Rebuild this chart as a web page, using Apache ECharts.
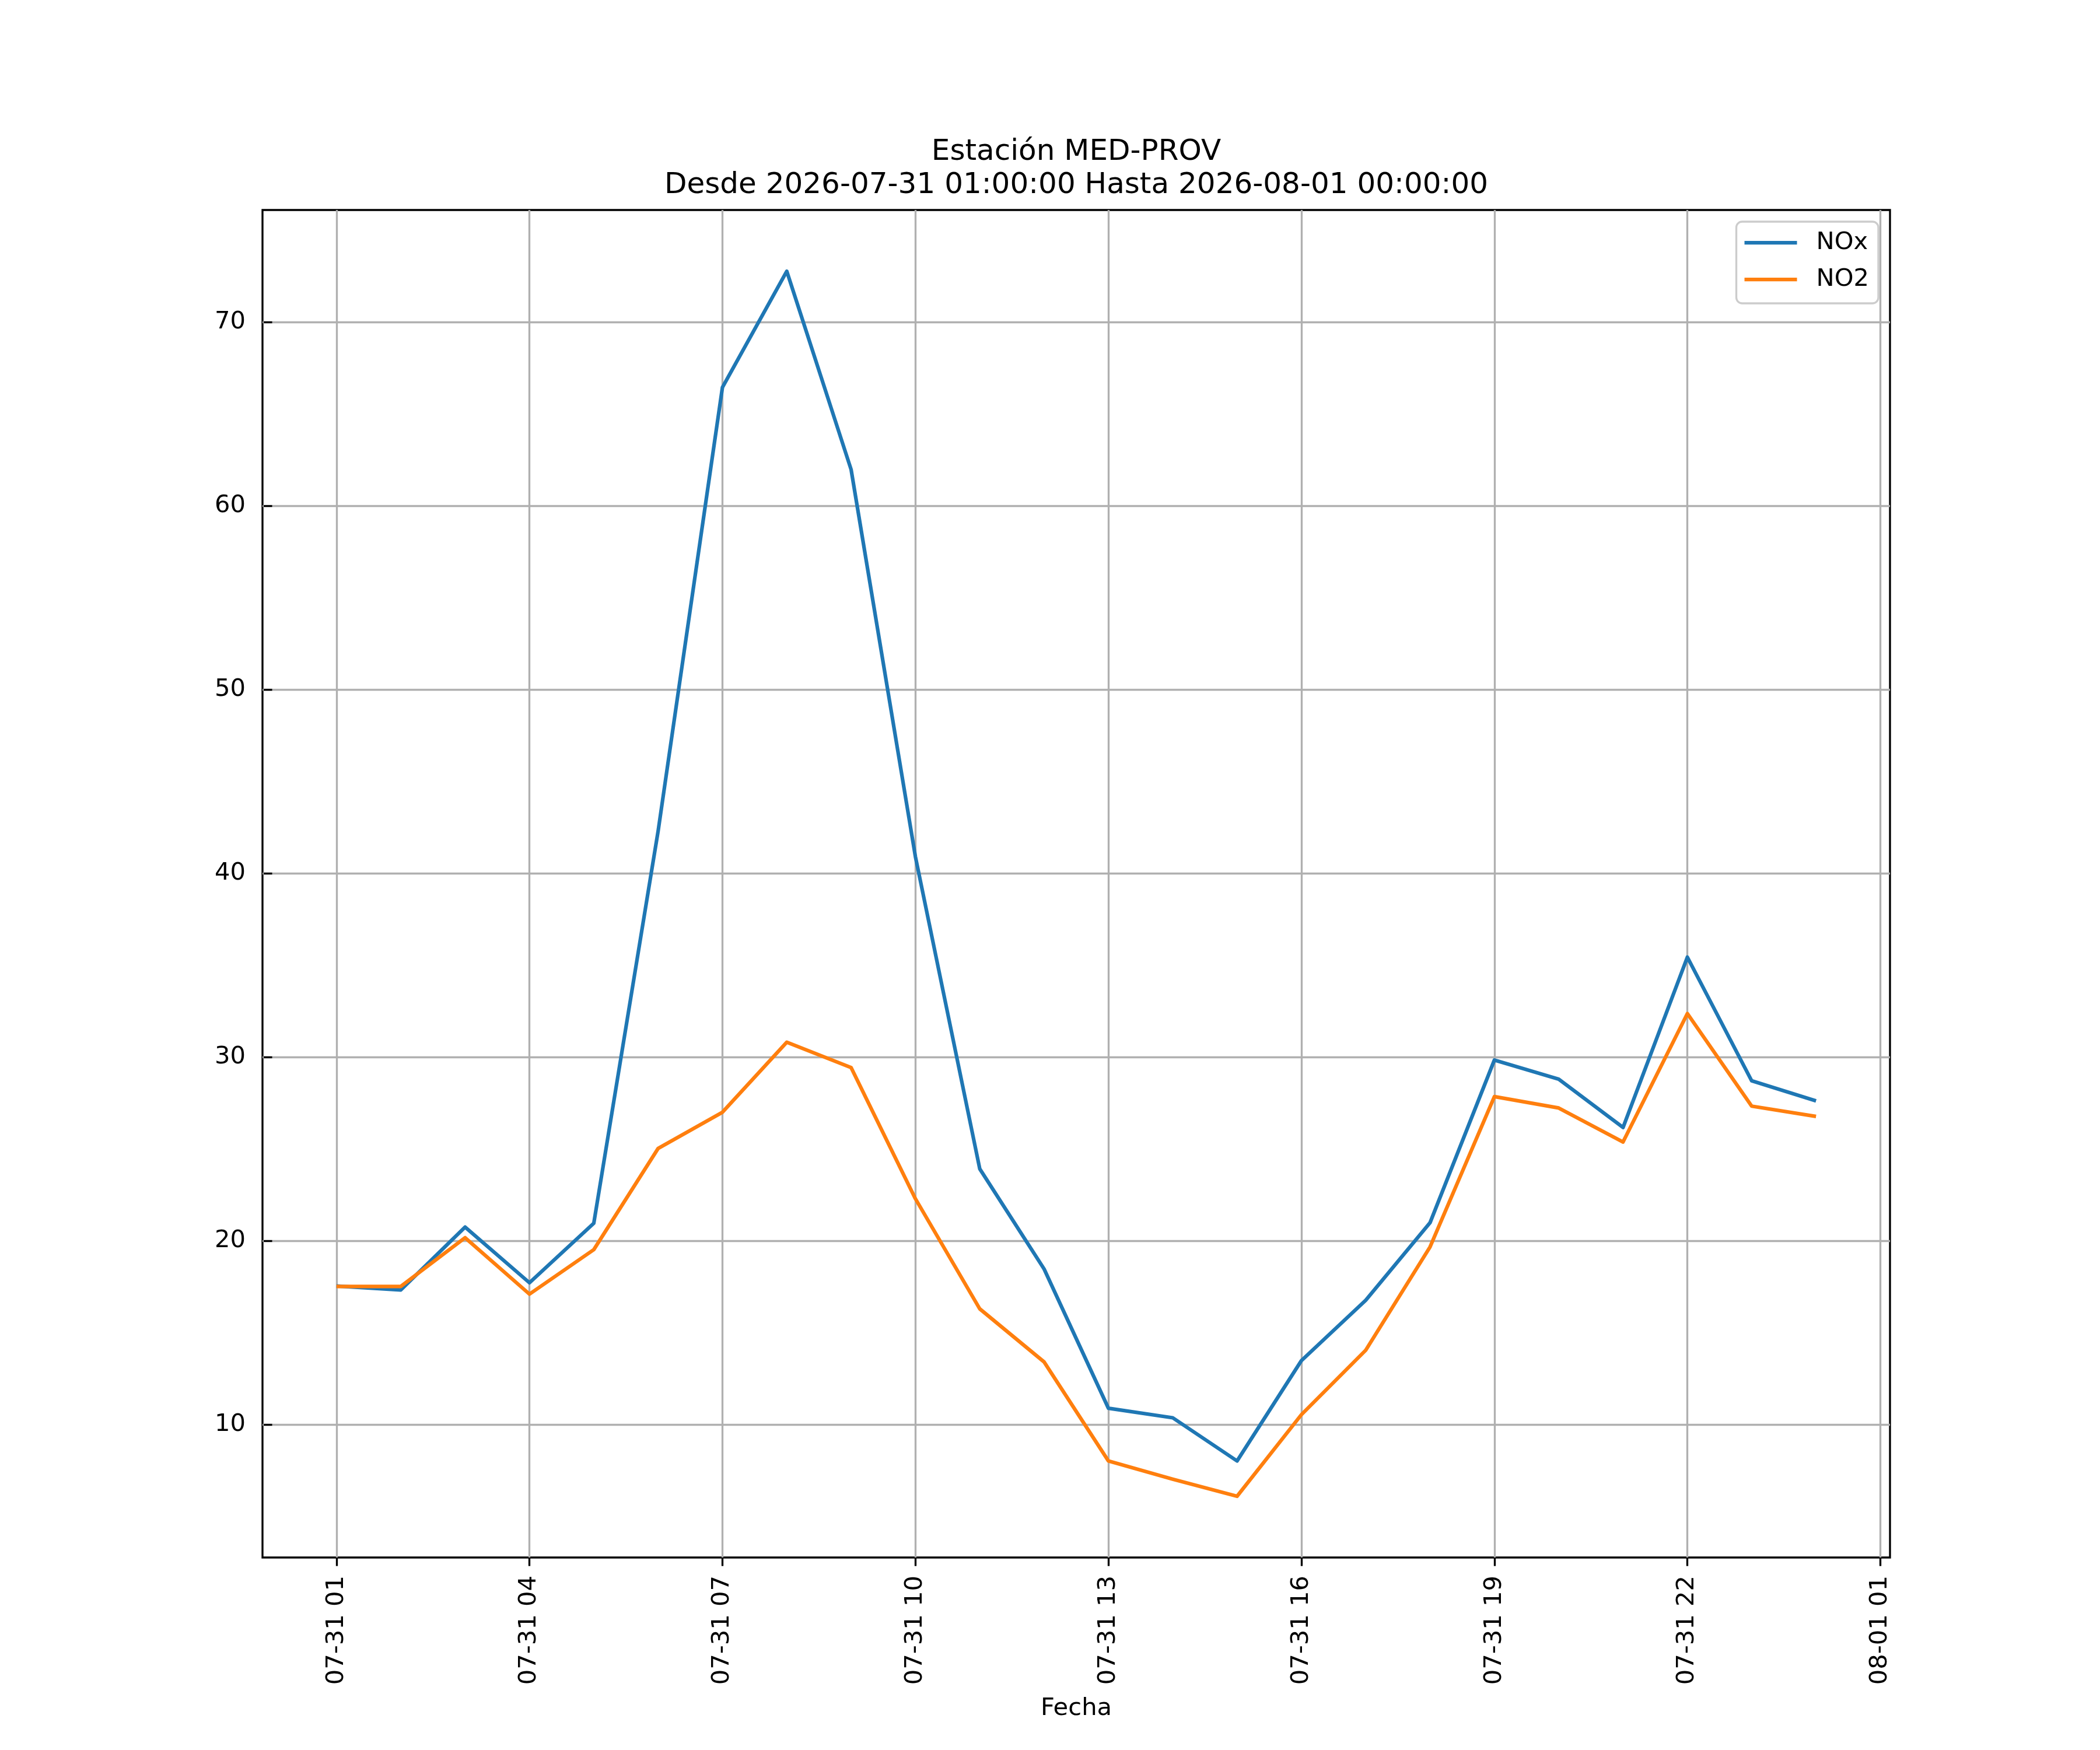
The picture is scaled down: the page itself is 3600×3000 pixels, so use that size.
<!DOCTYPE html>
<html>
<head>
<meta charset="utf-8">
<script src="https://cdn.jsdelivr.net/npm/echarts@6/dist/echarts.min.js"></script>
<style>html,body{margin:0;padding:0;background:#fff}#c{width:3600px;height:3000px}</style>
</head>
<body>
<div id="c"></div>
<script>
// ---- data ----
const times = [
  '2026-07-31 01:00','2026-07-31 02:00','2026-07-31 03:00','2026-07-31 04:00',
  '2026-07-31 05:00','2026-07-31 06:00','2026-07-31 07:00','2026-07-31 08:00',
  '2026-07-31 09:00','2026-07-31 10:00','2026-07-31 11:00','2026-07-31 12:00',
  '2026-07-31 13:00','2026-07-31 14:00','2026-07-31 15:00','2026-07-31 16:00',
  '2026-07-31 17:00','2026-07-31 18:00','2026-07-31 19:00','2026-07-31 20:00',
  '2026-07-31 21:00','2026-07-31 22:00','2026-07-31 23:00','2026-08-01 00:00'
];
const nox = [17.54, 17.33, 20.75, 17.72, 20.96, 42.3, 66.45, 72.77, 61.98, 40.9, 23.92, 18.47,
             10.89, 10.37, 8.02, 13.48, 16.77, 20.99, 29.84, 28.8, 26.17, 35.44, 28.71, 27.62];
const no2 = [17.52, 17.52, 20.17, 17.1, 19.52, 25.03, 27.0, 30.81, 29.43, 22.29, 16.3, 13.41,
             8.02, 7.03, 6.1, 10.54, 14.05, 19.67, 27.85, 27.23, 25.38, 32.37, 27.33, 26.77];
const seriesNames = ['NOx', 'NO2'];
const xTickLabels = ['07-31 01','07-31 04','07-31 07','07-31 10','07-31 13','07-31 16','07-31 19','07-31 22','08-01 01'];
const yTickValues = [10, 20, 30, 40, 50, 60, 70];
const titleLines = ['Estación MED-PROV', 'Desde 2026-07-31 01:00:00 Hasta 2026-08-01 00:00:00'];
const xName = 'Fecha';

// ---- helpers ----
const BASE = Date.UTC(2026, 6, 31, 0, 0);
function hoursOf(s) {
  const [d, t] = s.split(' ');
  const [Y, M, D] = d.split('-').map(Number);
  const [h, m] = t.split(':').map(Number);
  return (Date.UTC(Y, M - 1, D, h, m) - BASE) / 3600000;
}
function tickHours(lbl) { // 'MM-DD HH'
  const [md, hh] = lbl.split(' ');
  const [M, D] = md.split('-').map(Number);
  return (Date.UTC(2026, M - 1, D, Number(hh)) - BASE) / 3600000;
}
const xs = times.map(hoursOf);
const xTickVals = xTickLabels.map(tickHours);
const labelByHour = {};
xTickLabels.forEach((l, i) => { labelByHour[xTickVals[i]] = l; });

const xMin0 = Math.min(...xs), xMax0 = Math.max(...xs);
const xPad = 0.05 * (xMax0 - xMin0);
const all = nox.concat(no2);
const yMin0 = Math.min(...all), yMax0 = Math.max(...all);
const yPad = 0.05 * (yMax0 - yMin0);

const FONT = 'DejaVu Sans';
const FS = 41.67;
const LW = 3.33;

const chart = echarts.init(document.getElementById('c'), null, {renderer: 'canvas'});
chart.setOption({
  animation: false,
  backgroundColor: '#ffffff',
  title: {
    text: titleLines.join('\n'),
    left: 1845,
    textAlign: 'center',
    top: 233,
    padding: 0,
    textStyle: {fontFamily: FONT, fontSize: 50, fontWeight: 'normal', color: '#000', lineHeight: 57}
  },
  legend: {
    data: seriesNames,
    orient: 'vertical',
    align: 'left',
    right: 380,
    top: 380,
    icon: 'rect',
    itemWidth: 90,
    itemHeight: 6.25,
    itemGap: 19,
    padding: [14, 16, 19, 14],
    backgroundColor: 'rgba(255,255,255,0.8)',
    borderColor: '#cccccc',
    borderWidth: LW,
    borderRadius: 10,
    textStyle: {fontFamily: FONT, fontSize: FS, color: '#000', lineHeight: 44, padding: [0, 0, 0, 28]}
  },
  grid: {
    left: 450, right: 360, top: 360, bottom: 330,
    show: true, borderColor: '#000', borderWidth: LW, backgroundColor: 'transparent',
    containLabel: false
  },
  xAxis: {
    type: 'value',
    min: xMin0 - xPad,
    max: xMax0 + xPad,
    axisLine: {show: false},
    axisTick: {show: true, customValues: xTickVals, length: 14.6, lineStyle: {color: '#000', width: LW}},
    axisLabel: {
      customValues: xTickVals,
      formatter: v => labelByHour[v] || '',
      rotate: 90, margin: 31,
      fontFamily: FONT, fontSize: FS, color: '#000'
    },
    splitLine: {show: true, lineStyle: {color: '#b0b0b0', width: LW}},
    name: xName,
    nameLocation: 'middle',
    nameGap: 238,
    nameTextStyle: {fontFamily: FONT, fontSize: FS, color: '#000'}
  },
  yAxis: {
    type: 'value',
    min: yMin0 - yPad,
    max: yMax0 + yPad,
    axisLine: {show: false},
    axisTick: {show: true, customValues: yTickValues, length: 14.6, lineStyle: {color: '#000', width: LW}},
    axisLabel: {customValues: yTickValues, margin: 29, fontFamily: FONT, fontSize: FS, color: '#000'},
    splitLine: {show: true, lineStyle: {color: '#b0b0b0', width: LW}}
  },
  series: [
    {
      name: seriesNames[0], type: 'line', symbol: 'none', showSymbol: false,
      color: '#1f77b4',
      lineStyle: {color: '#1f77b4', width: 6.25, join: 'round'},
      data: xs.map((x, i) => [x, nox[i]])
    },
    {
      name: seriesNames[1], type: 'line', symbol: 'none', showSymbol: false,
      color: '#ff7f0e',
      lineStyle: {color: '#ff7f0e', width: 6.25, join: 'round'},
      data: xs.map((x, i) => [x, no2[i]])
    }
  ]
});
</script>
</body>
</html>
